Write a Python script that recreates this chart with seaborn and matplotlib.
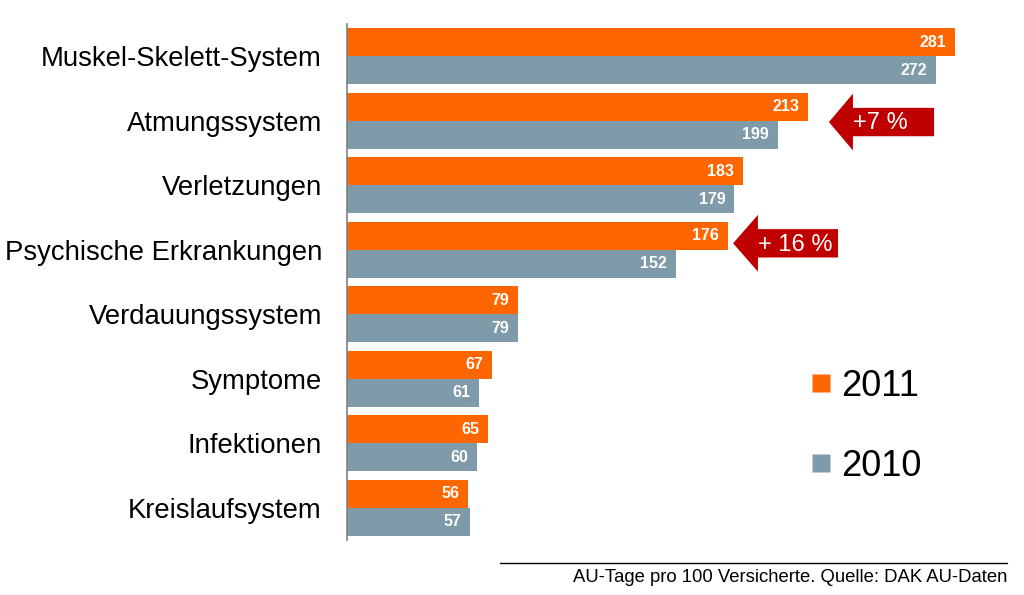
import matplotlib
matplotlib.use("Agg")
import matplotlib.pyplot as plt
import seaborn as sns
import pandas as pd
from matplotlib.patches import Polygon
from matplotlib.lines import Line2D

categories = ["Muskel-Skelett-System", "Atmungssystem", "Verletzungen",
              "Psychische Erkrankungen", "Verdauungssystem", "Symptome",
              "Infektionen", "Kreislaufsystem"]
values_2011 = [281, 213, 183, 176, 79, 67, 65, 56]
values_2010 = [272, 199, 179, 152, 79, 61, 60, 57]
years = ["2011", "2010"]
colors = {"2011": "#FF6600", "2010": "#7F9BAA"}

df = pd.DataFrame({
    "Kategorie": categories * 2,
    "Jahr": ["2011"] * len(categories) + ["2010"] * len(categories),
    "Wert": values_2011 + values_2010,
})

sns.set_style("white")
plt.rcParams["font.family"] = ["Liberation Sans", "DejaVu Sans"]
plt.rcParams["text.color"] = "black"

fig = plt.figure(figsize=(10.24, 5.95), dpi=100)
ax = fig.add_axes([347/1024, 1-540/595, (1010-347)/1024, 516/595])

sns.barplot(data=df, y="Kategorie", x="Wert", hue="Jahr", hue_order=years,
            order=categories, palette=colors, width=0.87, orient="h",
            saturation=1, ax=ax, legend=False, edgecolor="none")

ax.set_xlim(0, (1010-347)/2.164)
ax.set_ylim(len(categories)-0.5, -0.5)
for s in ["top", "right", "bottom"]:
    ax.spines[s].set_visible(False)
ax.spines["left"].set_color("#808080")
ax.spines["left"].set_linewidth(1.2)
ax.set_xticks([])
ax.set_xlabel("")
ax.set_ylabel("")
ax.set_yticks(range(len(categories)))
ax.set_yticklabels(categories, fontsize=19.8, color="#000000")
ax.tick_params(axis="y", which="major", length=0, pad=18)
ax.set_yticks([i - 0.5 for i in range(len(categories)+1)], minor=True)
ax.tick_params(axis="y", which="minor", length=7, width=1.2, color="#808080", direction="out")

# value labels
for cont in ax.containers:
    for bar in cont:
        w = bar.get_width()
        ax.text(w - 4, bar.get_y() + bar.get_height()/2, f"{int(w)}",
                ha="right", va="center", color="white", fontsize=11.5, fontweight="bold")

# arrows
def arrow(tip_x, yc, head_len, body_end, head_h, body_h, label):
    pts = [(tip_x, yc), (tip_x + head_len, yc - head_h), (tip_x + head_len, yc - body_h),
           (body_end, yc - body_h), (body_end, yc + body_h), (tip_x + head_len, yc + body_h),
           (tip_x + head_len, yc + head_h)]
    ax.add_patch(Polygon(pts, closed=True, facecolor="#C00000", edgecolor="none", clip_on=False))
    ax.text(tip_x + head_len, yc + 0.02, label, ha="left", va="center",
            color="white", fontsize=17)

arrow(222.7, 1.02, 11.1, 271.3, 0.44, 0.22, "+7 %")
arrow(178.4, 2.90, 11.5, 226.9, 0.44, 0.22, "+ 16 %")

# legend
handles = [Line2D([0], [0], marker="s", linestyle="none", markersize=13,
                  markerfacecolor=colors[y], markeredgecolor="none") for y in years]
fig.legend(handles, years, loc="upper left", bbox_to_anchor=(776/1024, 1-336/595),
           frameon=False, fontsize=26, labelspacing=1.25, handletextpad=0.2,
           handlelength=0.7, labelcolor="black")

# footer
fig.add_artist(Line2D([500/1024, 1007/1024], [1-563/595, 1-563/595], color="#000000", linewidth=1))
fig.text(1007/1024, 1-578/595, "AU-Tage pro 100 Versicherte. Quelle: DAK AU-Daten",
         ha="right", va="center", fontsize=13.3, color="black")

fig.savefig("out.png", dpi=100)
